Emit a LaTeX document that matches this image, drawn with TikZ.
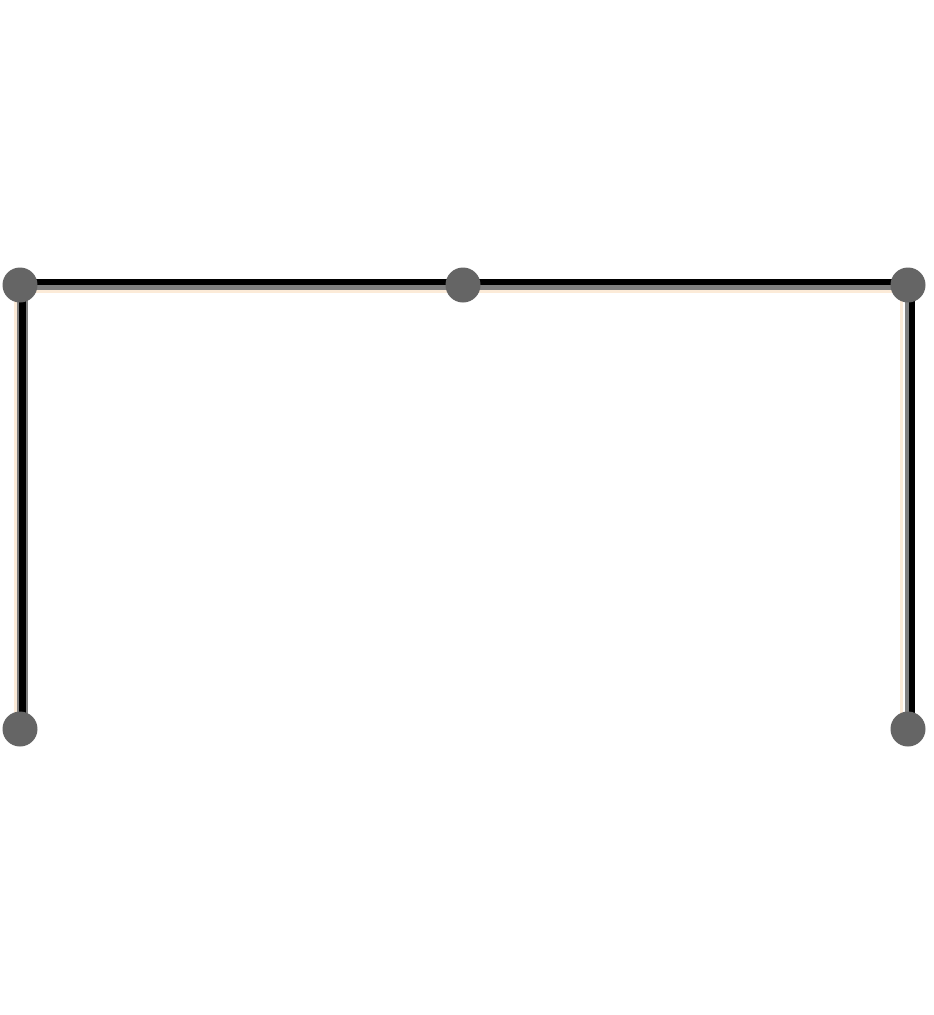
\documentclass[tikz,border=0pt]{standalone}
\usepackage{tikz}
\definecolor{dotgray}{HTML}{656565}
\definecolor{edgegray}{HTML}{808080}
\definecolor{glow}{HTML}{FCEBD8}
\tikzset{
  joint/.style={circle,fill=dotgray,draw=none,minimum size=35pt,inner sep=0pt},
  barblack/.style={line width=6pt,draw=black},
  bargray/.style={line width=5pt,draw=edgegray},
  barglow/.style={line width=3pt,draw=glow}
}
\begin{document}
\begin{tikzpicture}[x=1pt,y=-1pt]
\useasboundingbox (0,0) rectangle (934,1015);
\fill[white] (0,0) rectangle (934,1015);
% positions
\coordinate (tl) at (20,285);
\coordinate (tm) at (463,285);
\coordinate (tr) at (908,285);
\coordinate (bl) at (20,729);
\coordinate (br) at (908,729);
% horizontal bar (shifts are in page direction: negative = downwards)
\draw[barglow] ([yshift=-6.5pt]tl) -- ([yshift=-6.5pt]tr);
\draw[bargray] ([yshift=-2pt]tl) -- ([yshift=-2pt]tr);
\draw[barblack] ([yshift=3pt]tl) -- ([yshift=3pt]tr);
% left vertical
\draw[barglow] ([xshift=-5pt]tl) -- ([xshift=-5pt]bl);
\draw[line width=11pt,draw=edgegray] ([xshift=2.5pt]tl) -- ([xshift=2.5pt]bl);
\draw[line width=7pt,draw=black] ([xshift=2.5pt]tl) -- ([xshift=2.5pt]bl);
% right vertical
\draw[barglow] ([xshift=-6.5pt]tr) -- ([xshift=-6.5pt]br);
\draw[line width=4pt,draw=edgegray] ([xshift=-1pt]tr) -- ([xshift=-1pt]br);
\draw[line width=6pt,draw=black] ([xshift=4pt]tr) -- ([xshift=4pt]br);
% joints
\node[joint] (ntl) at (tl) {};
\node[joint] (ntm) at (tm) {};
\node[joint] (ntr) at (tr) {};
\node[joint] (nbl) at (bl) {};
\node[joint] (nbr) at (br) {};
\end{tikzpicture}
\end{document}
